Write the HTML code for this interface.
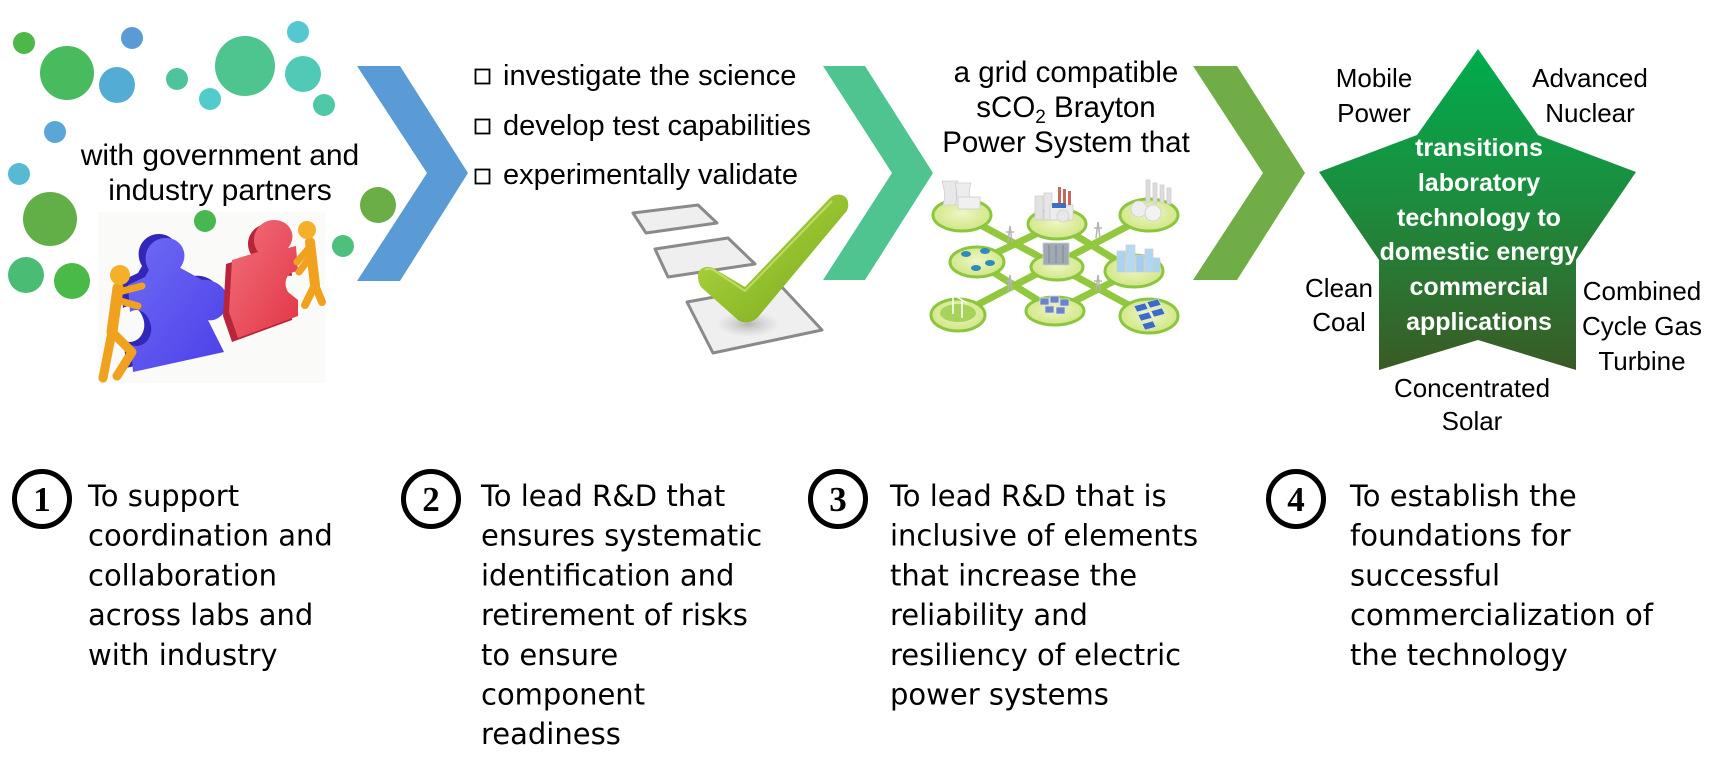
<!DOCTYPE html>
<html>
<head>
<meta charset="utf-8">
<style>
html,body{margin:0;padding:0;background:#fff;}
body{width:1714px;height:762px;overflow:hidden;}
svg{display:block;}
.t{font-family:"Liberation Sans",Arial,sans-serif;fill:#000;}
.b{font-family:"DejaVu Sans","Liberation Sans",sans-serif;fill:#000;font-size:29px;}
</style>
</head>
<body>
<svg width="1714" height="762" viewBox="0 0 1714 762" xmlns="http://www.w3.org/2000/svg">
<defs>
  <linearGradient id="star" x1="0" y1="0" x2="0" y2="1">
    <stop offset="0" stop-color="#00AD4E"/>
    <stop offset="0.5" stop-color="#1E8A3C"/>
    <stop offset="1" stop-color="#3A5A25"/>
  </linearGradient>
  <linearGradient id="chk" x1="0" y1="0" x2="1" y2="1">
    <stop offset="0" stop-color="#B8DC45"/>
    <stop offset="1" stop-color="#74A81A"/>
  </linearGradient>
  <linearGradient id="blue" x1="0" y1="0" x2="1" y2="1">
    <stop offset="0" stop-color="#6F6BF5"/>
    <stop offset="1" stop-color="#4B3FE8"/>
  </linearGradient>
  <linearGradient id="red" x1="0" y1="0" x2="1" y2="1">
    <stop offset="0" stop-color="#F2707C"/>
    <stop offset="1" stop-color="#E23645"/>
  </linearGradient>
  <radialGradient id="ell" cx="0.5" cy="0.45" r="0.6">
    <stop offset="0" stop-color="#EEF6C4"/>
    <stop offset="1" stop-color="#CDE57E"/>
  </radialGradient>
  <radialGradient id="shad" cx="0.5" cy="0.5" r="0.5">
    <stop offset="0" stop-color="#9a9a9a" stop-opacity="0.7"/>
    <stop offset="1" stop-color="#bbbbbb" stop-opacity="0"/>
  </radialGradient>
</defs>

<!-- bubbles -->
<circle cx="24" cy="43" r="11" fill="#4CB848"/>
<circle cx="67" cy="73" r="27" fill="#47BB5E"/>
<circle cx="132" cy="38" r="11" fill="#5A9BD5"/>
<circle cx="117" cy="85" r="18" fill="#52ACD3"/>
<circle cx="177" cy="79" r="11" fill="#4DC49A"/>
<circle cx="245" cy="66" r="30" fill="#4EC48F"/>
<circle cx="298" cy="32" r="11" fill="#55C7D0"/>
<circle cx="303" cy="74" r="18" fill="#50C9B6"/>
<circle cx="210" cy="99" r="11" fill="#52CBCB"/>
<circle cx="324" cy="105" r="11" fill="#4EC8A6"/>
<circle cx="55" cy="132" r="11" fill="#5AA6D4"/>
<circle cx="19" cy="174" r="11" fill="#57BAD3"/>
<circle cx="50" cy="219" r="27" fill="#62AF48"/>
<circle cx="26" cy="275" r="18" fill="#4BBC74"/>
<circle cx="72" cy="281" r="18" fill="#49B948"/>
<circle cx="378" cy="205" r="18" fill="#6BAE46"/>
<circle cx="343" cy="246" r="11" fill="#4CC07C"/>

<text class="t" font-size="30" text-anchor="middle" x="220" y="165">with government and</text>
<text class="t" font-size="30" text-anchor="middle" x="220" y="200">industry partners</text>

<!-- puzzle image -->
<rect x="98" y="212" width="227" height="171" fill="#FAFAF8"/>
<circle cx="205" cy="221" r="11" fill="#47B84F"/>
<path d="M138,273 L142,266 C133,251 143,234 159,234 C175,234 183,251 173,264 L195,276 C208,274 223,286 221,299 C219,312 207,318 201,316 L217,348 L126,368 L124,341 C138,346 148,331 143,318 C139,306 129,304 123,308 L121,281 Z" fill="#3327B8"/>
<path d="M145,277 L149,270 C140,255 150,238 166,238 C182,238 190,255 180,268 L202,280 C215,278 230,290 228,303 C226,316 214,322 208,320 L224,352 L133,372 L131,345 C145,350 155,335 150,322 C146,310 136,308 130,312 L128,285 Z" fill="url(#blue)"/>
<path d="M226,264 L252,256 C242,242 252,224 268,224 C284,224 292,240 282,252 L290,250 L292,276 C282,274 276,286 282,296 L292,304 L292,320 L232,342 L223,316 Z" fill="#B8243A"/>
<path d="M232,260 L258,252 C248,238 258,220 274,220 C290,220 298,236 288,248 L296,246 L298,272 C288,270 282,282 288,292 L298,300 L298,316 L238,338 L229,312 Z" fill="url(#red)"/>
<g stroke="#F0A21E" stroke-linecap="round" stroke-linejoin="round" fill="none">
  <path d="M118,288 L112,332" stroke-width="11"/>
  <path d="M119,292 L142,286" stroke-width="7"/>
  <path d="M117,300 L138,306" stroke-width="7"/>
  <path d="M112,332 L103,378" stroke-width="9"/>
  <path d="M112,332 L132,352 L117,376" stroke-width="9"/>
  <path d="M310,242 L315,285" stroke-width="10"/>
  <path d="M309,248 L297,262" stroke-width="7"/>
  <path d="M311,256 L299,272" stroke-width="7"/>
  <path d="M315,285 L305,305" stroke-width="8"/>
  <path d="M315,285 L322,302" stroke-width="8"/>
</g>
<circle cx="120" cy="275" r="10" fill="#F5B02A"/>
<circle cx="307" cy="230" r="9" fill="#F5B02A"/>

<!-- chevrons -->
<polygon points="357,66 400,66 468,173 400,281 357,281 427,173" fill="#5B9BD5"/>
<polygon points="823,66 865,66 933,173 865,280 823,280 892,173" fill="#4FC490"/>
<polygon points="1193,66 1237,66 1305,173 1237,280 1193,280 1263,173" fill="#70AD47"/>

<!-- checklist -->
<g fill="none" stroke="#000" stroke-width="1.8">
  <rect x="475.5" y="69.5" width="14" height="14"/>
  <rect x="475.5" y="119.5" width="14" height="14"/>
  <rect x="475.5" y="169.5" width="14" height="14"/>
</g>
<text class="t" font-size="29" x="503" y="85">investigate the science</text>
<text class="t" font-size="29" x="503" y="135">develop test capabilities</text>
<text class="t" font-size="29" x="503" y="184">experimentally validate</text>

<g stroke="#8A8A8A" stroke-width="3" fill="#EFEFEF" stroke-linejoin="round">
  <polygon points="633,213 698,205 717,223 646,233"/>
  <polygon points="655,249 728,238 755,264 668,277"/>
  <polygon points="687,302 780,285 822,330 713,353"/>
</g>
<ellipse cx="748" cy="324" rx="32" ry="13" fill="url(#shad)"/>
<path d="M698,276 C698,268 706,265 713,268 L745,287 L830,198 C836,192 848,194 848,203 C849,207 847,211 845,213 L758,317 C753,323 743,324 738,320 L702,288 C699,285 698,280 698,276 Z" fill="url(#chk)"/>
<path d="M705,270 C708,268 712,269 715,271 L745,291 L832,201" fill="none" stroke="#CFE77A" stroke-width="2" opacity="0.7"/>

<!-- grid text -->
<text class="t" font-size="29.5" text-anchor="middle" x="1066" y="82">a grid compatible</text>
<text class="t" font-size="29.5" text-anchor="middle" x="1066" y="117">sCO<tspan font-size="19" dy="6">2</tspan><tspan dy="-6"> Brayton</tspan></text>
<text class="t" font-size="29.5" text-anchor="middle" x="1066" y="152">Power System that</text>

<!-- grid image -->
<g stroke="#92C83E" stroke-width="7" stroke-linecap="round" fill="none">
  <line x1="962" y1="215" x2="1149" y2="316"/>
  <line x1="1149" y1="215" x2="958" y2="315"/>
  <polygon points="1057,224 1134,271 1055,311 977,262"/>
</g>
<g fill="url(#ell)" stroke="#8CC63F" stroke-width="3">
  <ellipse cx="962" cy="215" rx="29" ry="16"/>
  <ellipse cx="1057" cy="224" rx="29" ry="15"/>
  <ellipse cx="1149" cy="215" rx="29" ry="16"/>
  <ellipse cx="977" cy="262" rx="27" ry="15"/>
  <ellipse cx="1057" cy="267" rx="26" ry="13"/>
  <ellipse cx="1134" cy="271" rx="29" ry="16"/>
  <ellipse cx="958" cy="315" rx="27" ry="16"/>
  <ellipse cx="1055" cy="311" rx="29" ry="14"/>
  <ellipse cx="1149" cy="316" rx="29" ry="17"/>
</g>
<g stroke="#CFCFCF" stroke-width="0.8">
  <path d="M943,205 C946,196 944,188 942,181 L958,181 C956,188 955,196 958,205 Z" fill="#E8E8E8"/>
  <path d="M955,205 C958,197 957,189 955,183 L971,183 C969,189 968,197 972,205 Z" fill="#EDEDED"/>
  <rect x="958" y="197" width="22" height="12" fill="#F0F0F0"/>
  <rect x="1035" y="196" width="8" height="24" fill="#E2E2E2"/>
  <rect x="1044" y="193" width="8" height="27" fill="#E6E6E6"/>
  <rect x="1050" y="205" width="23" height="15" fill="#ECECEC"/>
  <circle cx="1063" cy="216" r="6" fill="#E8E8E8"/>
  <rect x="1146" y="180" width="4" height="22" fill="#DCDCDC"/>
  <rect x="1153" y="183" width="4" height="20" fill="#DCDCDC"/>
  <rect x="1160" y="185" width="4" height="18" fill="#DCDCDC"/>
  <rect x="1167" y="188" width="4" height="16" fill="#DCDCDC"/>
  <circle cx="1139" cy="209" r="8" fill="#EEEEEE"/>
  <circle cx="1153" cy="213" r="8" fill="#F2F2F2"/>
  <rect x="1043" y="243" width="26" height="22" fill="#A0A8B2"/>
  <rect x="1117" y="251" width="8" height="21" fill="#A9D3F0"/>
  <rect x="1126" y="245" width="9" height="27" fill="#B4DAF3"/>
  <rect x="1136" y="255" width="8" height="17" fill="#A3CEEE"/>
  <rect x="1145" y="249" width="8" height="23" fill="#B0D7F2"/>
  <rect x="1153" y="258" width="7" height="14" fill="#A9D3F0"/>
</g>
<g fill="#C46A5A">
  <rect x="1058" y="187" width="3" height="18"/>
  <rect x="1063" y="189" width="3" height="16"/>
  <rect x="1068" y="191" width="3" height="14"/>
</g>
<rect x="1052" y="203" width="14" height="5" fill="#3B6FC4"/>
<g fill="#2E8BC0">
  <ellipse cx="966" cy="254" rx="5" ry="3"/>
  <ellipse cx="985" cy="251" rx="5" ry="3"/>
  <ellipse cx="990" cy="263" rx="5" ry="3"/>
  <ellipse cx="976" cy="268" rx="5" ry="3"/>
</g>
<g stroke="#7E8790" stroke-width="1">
  <line x1="1049" y1="245" x2="1049" y2="263"/>
  <line x1="1056" y1="245" x2="1056" y2="263"/>
  <line x1="1063" y1="245" x2="1063" y2="263"/>
</g>
<ellipse cx="958" cy="313" rx="18" ry="9" fill="#A7D35A"/>
<g stroke="#FFFFFF" stroke-width="1.5">
  <line x1="953" y1="293" x2="953" y2="314"/>
  <line x1="962" y1="300" x2="962" y2="318"/>
  <line x1="948" y1="290" x2="958" y2="296"/>
  <line x1="957" y1="297" x2="967" y2="303"/>
</g>
<g fill="#6A84C8" stroke="#E0E0E0" stroke-width="0.8">
  <rect x="1040" y="298" width="9" height="7"/>
  <rect x="1050" y="296" width="9" height="7"/>
  <rect x="1060" y="299" width="9" height="7"/>
  <rect x="1045" y="306" width="9" height="7"/>
  <rect x="1056" y="307" width="9" height="7"/>
</g>
<g fill="#3E6BC2" stroke="#DDE6F5" stroke-width="0.6">
  <polygon points="1134,306 1145,303 1148,309 1137,312"/>
  <polygon points="1147,302 1158,299 1161,305 1150,308"/>
  <polygon points="1138,315 1149,312 1152,318 1141,321"/>
  <polygon points="1151,311 1162,308 1165,314 1154,317"/>
  <polygon points="1142,324 1153,321 1156,327 1145,330"/>
</g>
<g stroke="#B5B5B5" stroke-width="1.5" fill="none">
  <path d="M1008,242 L1010,226 L1012,242 M1006,232 L1014,232"/>
  <path d="M1096,238 L1098,222 L1100,238 M1094,228 L1102,228"/>
  <path d="M1008,291 L1010,275 L1012,291 M1006,281 L1014,281"/>
  <path d="M1096,291 L1098,275 L1100,291 M1094,281 L1102,281"/>
</g>

<!-- star -->
<polygon points="1478,49 1538,135 1636,172 1576,260 1576,370 1478,340 1379,370 1379,260 1319,172 1417,135" fill="url(#star)"/>
<g font-family="Liberation Sans, Arial, sans-serif" font-weight="bold" font-size="25" fill="#fff" text-anchor="middle">
  <text x="1479" y="156">transitions</text>
  <text x="1479" y="191">laboratory</text>
  <text x="1479" y="226">technology to</text>
  <text x="1479" y="260">domestic energy</text>
  <text x="1479" y="295">commercial</text>
  <text x="1479" y="330">applications</text>
</g>
<g class="t" font-size="26" text-anchor="middle">
  <text class="t" x="1374" y="87">Mobile</text>
  <text class="t" x="1374" y="122">Power</text>
  <text class="t" x="1590" y="87">Advanced</text>
  <text class="t" x="1590" y="122">Nuclear</text>
  <text class="t" x="1339" y="297">Clean</text>
  <text class="t" x="1339" y="331">Coal</text>
  <text class="t" x="1642" y="300">Combined</text>
  <text class="t" x="1642" y="335">Cycle Gas</text>
  <text class="t" x="1642" y="370">Turbine</text>
  <text class="t" x="1472" y="397">Concentrated</text>
  <text class="t" x="1472" y="430">Solar</text>
</g>

<!-- bottom numbered items -->
<g fill="none" stroke="#000" stroke-width="5">
  <circle cx="42" cy="499" r="27.5"/>
  <circle cx="431" cy="499" r="27.5"/>
  <circle cx="838" cy="499" r="27.5"/>
  <circle cx="1296" cy="499" r="27.5"/>
</g>
<g font-family="Liberation Serif, serif" font-weight="bold" font-size="35" text-anchor="middle" fill="#000">
  <text x="42" y="511">1</text>
  <text x="431" y="511">2</text>
  <text x="838" y="511">3</text>
  <text x="1296" y="511">4</text>
</g>

<g class="b">
  <text class="b" x="88" y="506">To support</text>
  <text class="b" x="88" y="545.7">coordination and</text>
  <text class="b" x="88" y="585.4">collaboration</text>
  <text class="b" x="88" y="625.1">across labs and</text>
  <text class="b" x="88" y="664.8">with industry</text>

  <text class="b" x="481" y="506">To lead R&amp;D that</text>
  <text class="b" x="481" y="545.7">ensures systematic</text>
  <text class="b" x="481" y="585.4">identification and</text>
  <text class="b" x="481" y="625.1">retirement of risks</text>
  <text class="b" x="481" y="664.8">to ensure</text>
  <text class="b" x="481" y="704.5">component</text>
  <text class="b" x="481" y="744.2">readiness</text>

  <text class="b" x="890" y="506">To lead R&amp;D that is</text>
  <text class="b" x="890" y="545.7">inclusive of elements</text>
  <text class="b" x="890" y="585.4">that increase the</text>
  <text class="b" x="890" y="625.1">reliability and</text>
  <text class="b" x="890" y="664.8">resiliency of electric</text>
  <text class="b" x="890" y="704.5">power systems</text>

  <text class="b" x="1350" y="506">To establish the</text>
  <text class="b" x="1350" y="545.7">foundations for</text>
  <text class="b" x="1350" y="585.4">successful</text>
  <text class="b" x="1350" y="625.1">commercialization of</text>
  <text class="b" x="1350" y="664.8">the technology</text>
</g>
</svg>
</body>
</html>
